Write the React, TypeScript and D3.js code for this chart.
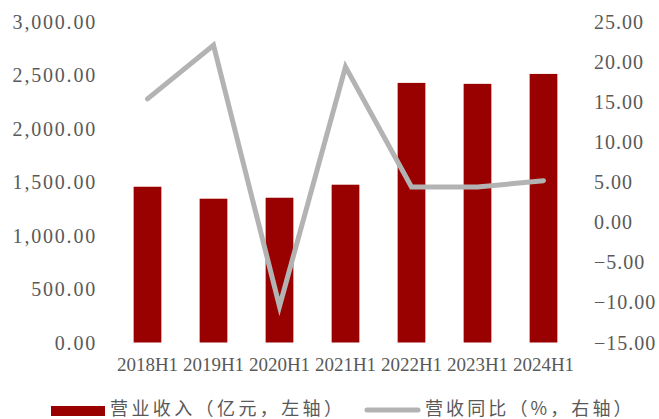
import React from "react";
import * as d3 from "d3";

const categories = ["2018H1", "2019H1", "2020H1", "2021H1", "2022H1", "2023H1", "2024H1"];
const revenue = [1458, 1346, 1355, 1477, 2430, 2421, 2514];
const growth = [15.4, 22.1, -10.5, 19.4, 4.4, 4.4, 5.2];
const leftTicks = [0, 500, 1000, 1500, 2000, 2500, 3000];
const rightTicks = [-15, -10, -5, 0, 5, 10, 15, 20, 25];
const legendLabels = ["营业收入（亿元，左轴）", "营收同比（%，右轴）"];

const W = 659;
const H = 419;
const top = 22;
const bottom = 342.5;
const left = 114.5;
const right = 576.5;

const serif = "'Liberation Serif', 'DejaVu Serif', serif";
const cjk = "'Noto Sans CJK SC', sans-serif";
const textColor = "#595959";

export default function App() {
  const x = d3.scaleBand<string>().domain(categories).range([left, right]).paddingInner(0.58).paddingOuter(0.29);
  const yL = d3.scaleLinear().domain([0, 3000]).range([bottom, top]);
  const yR = d3.scaleLinear().domain([-15, 25]).range([bottom, top]);
  const fmt = d3.format(",.2f");
  const fmtR = d3.format(".2f");
  const line = d3
    .line<number>()
    .x((_, i) => (x(categories[i]) as number) + x.bandwidth() / 2)
    .y((d) => yR(d));

  return (
    <svg width={W} height={H} style={{ position: "absolute", left: 0, top: 0, background: "#fff" }}>
      {categories.map((c, i) => (
        <rect
          key={c}
          x={x(c)}
          y={yL(revenue[i])}
          width={x.bandwidth()}
          height={yL(0) - yL(revenue[i])}
          fill="#990000"
        />
      ))}
      <path
        d={line(growth) || ""}
        fill="none"
        stroke="#b3b3b3"
        strokeWidth={5}
        strokeLinecap="round"
        strokeLinejoin="miter"
      />
      {leftTicks.map((t) => (
        <text
          key={t}
          x={97}
          y={yL(t)}
          textAnchor="end"
          dominantBaseline="central"
          fontFamily={serif}
          fontSize={20}
          letterSpacing={1.8}
          fill={textColor}
        >
          {fmt(t)}
        </text>
      ))}
      {rightTicks.map((t) => (
        <text
          key={t}
          x={594}
          y={yR(t)}
          textAnchor="start"
          dominantBaseline="central"
          fontFamily={serif}
          fontSize={20}
          letterSpacing={1}
          fill={textColor}
        >
          {t < 0 ? "−" + fmtR(-t) : fmtR(t)}
        </text>
      ))}
      {categories.map((c) => (
        <text
          key={c}
          x={(x(c) as number) + x.bandwidth() / 2}
          y={364}
          textAnchor="middle"
          dominantBaseline="central"
          fontFamily={serif}
          fontSize={19}
          fill={textColor}
        >
          {c}
        </text>
      ))}
      <g>
        <rect x={51} y={406} width={54} height={10} fill="#990000" />
        <text x={110} y={407} dominantBaseline="central" fontFamily={cjk} fontSize={18} letterSpacing={3.4} fill={textColor}>
          {legendLabels[0]}
        </text>
        <line x1={367} y1={410} x2={418} y2={410} stroke="#b3b3b3" strokeWidth={5} strokeLinecap="round" />
        <text x={425} y={407} dominantBaseline="central" fontFamily={cjk} fontSize={18} letterSpacing={3.1} fill={textColor}>
          {legendLabels[1]}
        </text>
      </g>
    </svg>
  );
}
